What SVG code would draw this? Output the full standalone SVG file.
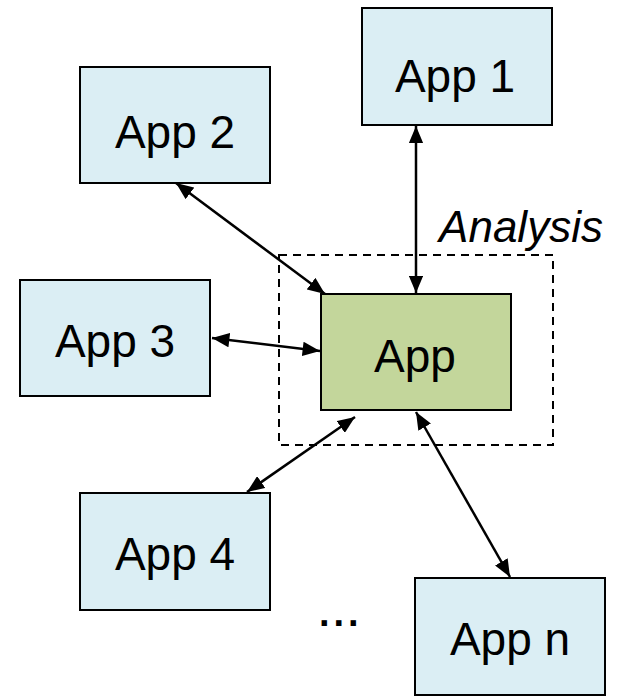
<svg xmlns="http://www.w3.org/2000/svg" width="624" height="697" viewBox="0 0 624 697">
<style>
.app{fill:#DBEEF4;stroke:#000;stroke-width:2}
.main{fill:#C3D69B;stroke:#000;stroke-width:2}
.lbl{font-family:"Liberation Sans",Arial,sans-serif;font-size:46px;fill:#000;text-anchor:middle}
.conn line{stroke:#000;stroke-width:2.5;marker-start:url(#ah);marker-end:url(#ah)}
</style>
<defs>
<marker id="ah" viewBox="0 0 12 10" refX="12" refY="5" markerWidth="7" markerHeight="5.8" markerUnits="strokeWidth" orient="auto-start-reverse">
<path d="M0,0 L12,5 L0,10 Z" fill="#000"/>
</marker>
</defs>
<rect x="279" y="255" width="274" height="190" fill="none" stroke="#000" stroke-width="2" stroke-dasharray="8,6"/>
<text x="521" y="242" font-family="Liberation Sans,Arial,sans-serif" font-style="italic" font-size="44" text-anchor="middle">Analysis</text>
<g id="app1"><rect class="app" x="362" y="8" width="190" height="117"/><text class="lbl" x="455" y="92">App 1</text></g>
<g id="app2"><rect class="app" x="80" y="67" width="190" height="116"/><text class="lbl" x="175" y="148">App 2</text></g>
<g id="app3"><rect class="app" x="20" y="280" width="190" height="116"/><text class="lbl" x="115" y="357">App 3</text></g>
<g id="app"><rect class="main" x="321" y="294" width="190" height="116"/><text class="lbl" x="415" y="372">App</text></g>
<g id="app4"><rect class="app" x="80" y="493" width="190" height="117"/><text class="lbl" x="175" y="570">App 4</text></g>
<g id="appn"><rect class="app" x="415" y="578" width="190" height="117"/><text class="lbl" x="510" y="655">App n</text></g>
<text x="319" y="626" font-family="Liberation Sans,Arial,sans-serif" font-size="38" font-weight="bold" letter-spacing="4">...</text>
<g class="conn">
<line x1="416" y1="126" x2="416" y2="293"/>
<line x1="176" y1="183" x2="325" y2="294"/>
<line x1="212" y1="338" x2="320" y2="351"/>
<line x1="355" y1="417" x2="247" y2="492"/>
<line x1="416" y1="412" x2="510" y2="577"/>
</g>
</svg>
